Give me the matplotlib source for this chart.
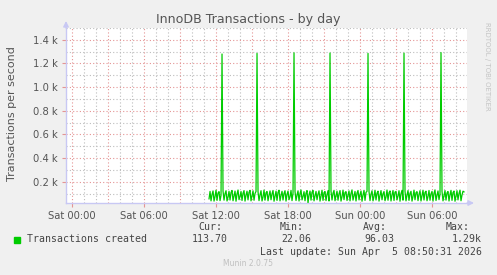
import numpy as np
import matplotlib
matplotlib.use("Agg")
import matplotlib.pyplot as plt

# ---- data ----
title = "InnoDB Transactions - by day"
ylabel = "Transactions per second"
series_name = "Transactions created"
tick_hours = [0, 6, 12, 18, 24, 30]
tick_labels = ["Sat 00:00", "Sat 06:00", "Sat 12:00", "Sat 18:00", "Sun 00:00", "Sun 06:00"]
ytick_values = [200, 400, 600, 800, 1000, 1200, 1400]
ytick_labels = ["0.2 k", "0.4 k", "0.6 k", "0.8 k", "1.0 k", "1.2 k", "1.4 k"]
start_hour = 11.42          # first sample (hours after Sat 00:00)
step_minutes = 5            # sample interval
values = [
    55, 118, 38, 92, 122, 36, 75, 128, 42, 104, 116, 40, 85, 1280, 120, 44,
    98, 124, 37, 70, 119, 45, 108, 126, 39, 82, 121, 35, 96, 130, 48, 74,
    117, 41, 102, 125, 36, 88, 120, 46, 110, 127, 38, 79, 123, 43, 100, 118,
    1285, 115, 40, 90, 124, 37, 72, 129, 44, 106, 117, 39, 86, 122, 47, 97,
    126, 35, 77, 120, 42, 109, 128, 38, 84, 119, 45, 101, 124, 36, 93, 121,
    48, 73, 127, 40, 105, 1290, 118, 41, 87, 123, 37, 99, 130, 46, 76, 116,
    39, 103, 125, 22, 89, 121, 44, 111, 126, 38, 81, 118, 47, 95, 123, 36,
    78, 128, 42, 107, 117, 40, 91, 124, 37, 1288, 119, 45, 102, 127, 39, 83,
    120, 43, 97, 125, 36, 74, 129, 48, 108, 116, 41, 86, 122, 38, 100, 131,
    44, 79, 118, 37, 104, 126, 46, 92, 121, 35, 88, 127, 42, 110, 119, 1285,
    117, 40, 94, 123, 38, 76, 128, 45, 103, 120, 36, 85, 125, 47, 98, 117,
    39, 72, 130, 43, 106, 122, 37, 90, 126, 41, 112, 118, 46, 80, 124, 35,
    99, 127, 44, 1287, 121, 38, 88, 125, 42, 101, 119, 36, 77, 129, 47, 107,
    116, 40, 93, 124, 37, 84, 128, 45, 109, 120, 39, 75, 126, 43, 97, 118,
    36, 102, 131, 41, 86, 122, 48, 94, 1292, 119, 38, 80, 125, 44, 105, 117,
    37, 91, 127, 42, 108, 121, 35, 78, 124, 46, 100, 129, 39, 87, 120, 114,
]
stat_headers = ["Cur:", "Min:", "Avg:", "Max:"]
stat_values = ["113.70", "22.06", "96.03", "1.29k"]
last_update = "Last update: Sun Apr  5 08:50:31 2026"
footer = "Munin 2.0.75"
watermark = "RRDTOOL / TOBI OETIKER"

# ---- figure ----
W, H = 497, 275
BG = "#F0F0F0"
fig = plt.figure(figsize=(W / 100, H / 100), dpi=100, facecolor=BG)

def fx(px):
    return px / W

def fy(py):
    return 1 - py / H

L, R, T, B = 66, 467, 28, 203
ax = fig.add_axes([fx(L), fy(B), fx(R - L), (B - T) / H])
ax.set_facecolor("white")
xmin, xmax = -0.5, 32.92
ymin, ymax = 20, 1500
ax.set_xlim(xmin, xmax)
ax.set_ylim(ymin, ymax)

minor_col = "#BDBDBD"
major_col = "#E49494"
dot = (0, (1, 2))
for h in np.arange(0, 33, 1):
    if h % 3 == 0:
        continue
    ax.axvline(h, color=minor_col, lw=0.8, ls=dot, zorder=1)
for h in np.arange(0, 33, 3):
    ax.axvline(h, color=major_col, lw=0.8, ls=dot, zorder=1.5)
for v in np.arange(100, 1501, 200):
    ax.axhline(v, color=minor_col, lw=0.8, ls=dot, zorder=1)
for v in ytick_values:
    ax.axhline(v, color=major_col, lw=0.8, ls=dot, zorder=1.5)

hours = start_hour + np.arange(len(values)) * step_minutes / 60.0
ax.plot(hours, values, color="#00CC00", lw=0.9, zorder=3)

ax.set_xticks(tick_hours)
ax.set_xticklabels(tick_labels)
ax.set_yticks(ytick_values)
ax.set_yticklabels(ytick_labels)
ax.tick_params(axis="both", labelsize=7.2, colors="#555555", length=3,
               width=0.8, color=major_col, pad=3)
ax.tick_params(axis="x", direction="out", length=3)

for s in ["top", "right"]:
    ax.spines[s].set_visible(False)
axis_col = "#C8C8F4"
for s in ["left", "bottom"]:
    ax.spines[s].set_color(axis_col)
    ax.spines[s].set_linewidth(1.0)

# arrows
ax.annotate("", xy=(0, 1 + 7 / (B - T)), xytext=(0, 1), xycoords="axes fraction",
            arrowprops=dict(arrowstyle="-|>", color=axis_col, lw=1.0,
                            mutation_scale=8, shrinkA=0, shrinkB=0))
ax.annotate("", xy=(1 + 7 / (R - L), 0), xytext=(1, 0), xycoords="axes fraction",
            arrowprops=dict(arrowstyle="-|>", color=axis_col, lw=1.0,
                            mutation_scale=8, shrinkA=0, shrinkB=0))

# texts
fig.text(fx(248.5), fy(19), title, ha="center", va="center", fontsize=9.1, color="#555555")
fig.text(fx(12), fy(114), ylabel, ha="center", va="center", rotation=90,
         fontsize=8.0, color="#555555")
fig.text(fx(487), fy(22), watermark, ha="center", va="top", rotation=270,
         fontsize=5, color="#C4C4C4")

mono = "DejaVu Sans Mono"
tcol = "#444444"
fs = 7.1
fig.patches.append(plt.Rectangle((fx(14), fy(242.7)), fx(6), 5.6 / H,
                                 transform=fig.transFigure, color="#00CC00"))
fig.text(fx(27), fy(239.5), series_name, ha="left", va="center",
         family=mono, fontsize=fs, color=tcol)
head_x = [222, 304, 387, 470]
val_x = [228, 311, 394, 482]
for hx, hd in zip(head_x, stat_headers):
    fig.text(fx(hx), fy(227), hd, ha="right", va="center", family=mono, fontsize=fs, color=tcol)
for vx, vv in zip(val_x, stat_values):
    fig.text(fx(vx), fy(239.5), vv, ha="right", va="center", family=mono, fontsize=fs, color=tcol)
fig.text(fx(482), fy(251.7), last_update, ha="right", va="center", family=mono,
         fontsize=fs, color=tcol)
fig.text(fx(248), fy(263.5), footer, ha="center", va="center", fontsize=5.5, color="#C0C0C0")

fig.savefig("out.png", dpi=100, facecolor=BG)
